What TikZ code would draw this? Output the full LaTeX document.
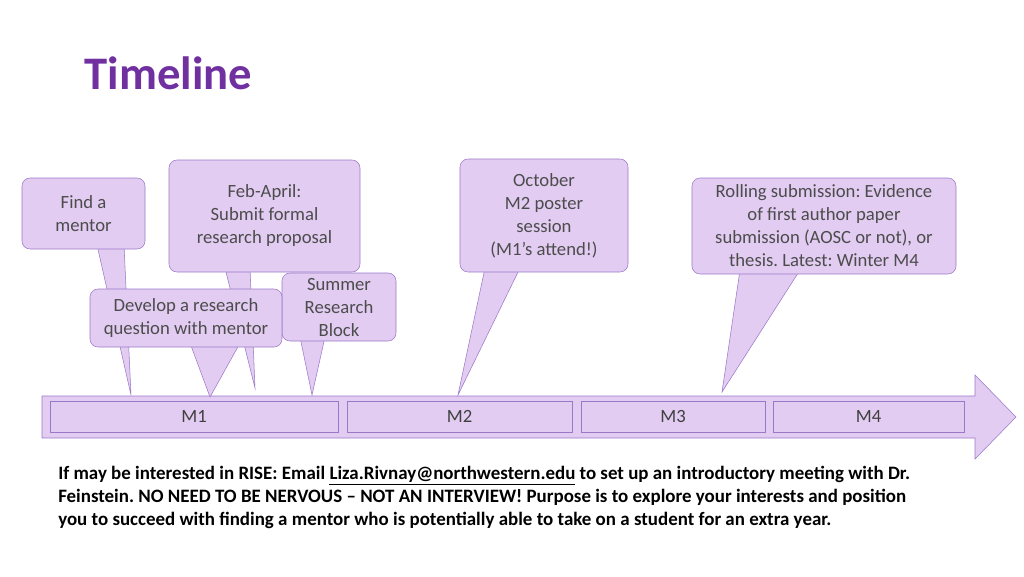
\documentclass[tikz,border=0pt]{standalone}
\usepackage{fontspec}
\setmainfont{Carlito}
\usetikzlibrary{positioning}
\definecolor{titlepurple}{HTML}{7030A0}
\definecolor{callfill}{HTML}{E2CCF2}
\definecolor{calldraw}{HTML}{9A78C8}
\frenchspacing
\begin{document}
\begin{tikzpicture}[
    x=0.75pt,y=-0.75pt,
    callout/.style={rectangle,rounded corners=6pt,fill=callfill,draw=calldraw,align=center,font=\fontsize{14}{17.25}\selectfont,text=black!70,inner sep=0pt},
    tail/.style={fill=callfill,draw=calldraw},
    mbox/.style={rectangle,fill=callfill,draw=calldraw,font=\fontsize{14}{16}\selectfont,text=black!75,inner sep=0pt}
]
\useasboundingbox (0,0) rectangle (1024,576);

% Title
\node[anchor=west,text=titlepurple,font=\fontsize{35}{40}\selectfont\bfseries] (title) at (80,73) {Timeline};

% Timeline arrow
\draw[tail] (42,396) -- (975,396) -- (975,375) -- (1016,417) -- (975,459) -- (975,438) -- (42,438) -- cycle;
\node[mbox,minimum width=288*0.75pt,minimum height=31*0.75pt] (m1) at (194,416.5) {M1};
\node[mbox,minimum width=225*0.75pt,minimum height=31*0.75pt] (m2) at (459.5,416.5) {M2};
\node[mbox,minimum width=184*0.75pt,minimum height=31*0.75pt] (m3) at (673,416.5) {M3};
\node[mbox,minimum width=191*0.75pt,minimum height=31*0.75pt] (m4) at (868.5,416.5) {M4};

% Find a mentor
\draw[tail] (97,245) -- (131,395) -- (124,245);
\node[callout,minimum width=123*0.75pt,minimum height=71*0.75pt] (mentor) at (83.5,213.5) {Find a\\mentor};

% Feb-April
\draw[tail] (225,268) -- (255,388) -- (250,268);
\node[callout,minimum width=191*0.75pt,minimum height=112*0.75pt] (proposal) at (264.5,216) {Feb-April:\\Submit formal\\research proposal};

% Summer
\draw[tail] (300,337) -- (312,395) -- (325,337);
\node[callout,minimum width=114*0.75pt,minimum height=68*0.75pt] (summer) at (339,307) {Summer\\Research\\Block};

% Develop
\draw[tail] (190,343) -- (210,397) -- (240,343);
\node[callout,minimum width=192*0.75pt,minimum height=58*0.75pt] (question) at (186,318) {Develop a research\\question with mentor};

% October
\draw[tail] (485,268) -- (458,395) -- (520,268);
\node[callout,minimum width=168*0.75pt,minimum height=113*0.75pt] (poster) at (544,215.5) {October\\M2 poster\\session\\(M1’s attend!)};

% Rolling
\draw[tail] (740,270) -- (722,392) -- (800,270);
\node[callout,minimum width=264*0.75pt,minimum height=96*0.75pt] (paper) at (824,226) {Rolling submission: Evidence\\of first author paper\\submission (AOSC or not), or\\thesis. Latest: Winter M4};

% Footer note
\node[anchor=north west,align=left,font=\fontsize{14.2}{17.25}\selectfont\bfseries,inner sep=0pt] (note) at (58,466) {If may be interested in RISE: Email \underline{Liza.Rivnay@northwestern.edu} to set up an introductory meeting with Dr.\\Feinstein. NO NEED TO BE NERVOUS – NOT AN INTERVIEW! Purpose is to explore your interests and position\\you to succeed with finding a mentor who is potentially able to take on a student for an extra year.};
\end{tikzpicture}
\end{document}
